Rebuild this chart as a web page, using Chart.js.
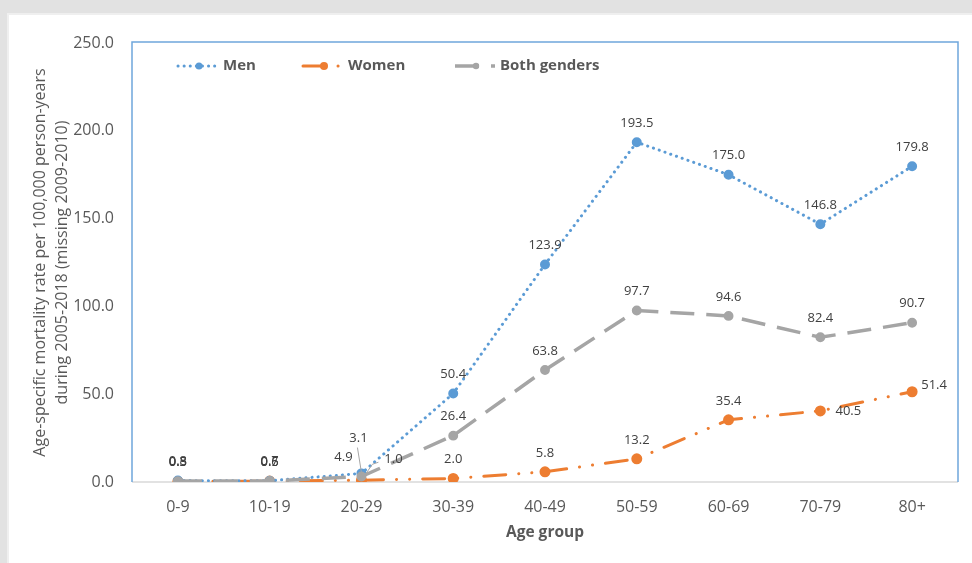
<!DOCTYPE html>
<html>
<head>
<meta charset="utf-8">
<script src="https://cdn.jsdelivr.net/npm/chart.js@4.4.0/dist/chart.umd.min.js"></script>
<style>
  html, body { margin: 0; padding: 0; background: #e2e2e2; width: 972px; height: 563px; overflow: hidden; }
  #panel { position: absolute; left: 7px; top: 13px; width: 965px; height: 550px; background: #fff; border-left: 2px solid #efefef; border-top: 2px solid #efefef; box-sizing: border-box; }
  #chart { position: absolute; left: 0; top: 0; }
</style>
</head>
<body>
<div id="panel"></div>
<canvas id="chart" width="972" height="563"></canvas>
<script>
// data
const ageGroups = ['0-9', '10-19', '20-29', '30-39', '40-49', '50-59', '60-69', '70-79', '80+'];
const men = [0.8, 0.7, 4.9, 50.4, 123.9, 193.5, 175.0, 146.8, 179.8];
const women = [0.3, 0.5, 1.0, 2.0, 5.8, 13.2, 35.4, 40.5, 51.4];
const both = [0.5, 0.6, 3.1, 26.4, 63.8, 97.7, 94.6, 82.4, 90.7];
const yTicks = [0, 50, 100, 150, 200, 250];
const seriesNames = ['Men', 'Women', 'Both genders'];

const FONT = "'Open Sans', 'DejaVu Sans', sans-serif";
const GREY_TXT = '#595959';

// where the value labels sit relative to their point (px)
const labelShift = [
    { def: [0, -19], 2: [-18, -16] },
    { def: [0, -19], 2: [32, -21], 7: [28, 0], 8: [22, -6] },
    { def: [0, -19], 2: [-3, -38] }
];
const legendPos = [178, 303, 455];

const framePlugin = {
    id: 'frame',
    beforeDatasetsDraw(chart) {
        const { ctx, chartArea: a } = chart;
        ctx.save();
        ctx.strokeStyle = '#d9d9d9';
        ctx.lineWidth = 1.5;
        ctx.beginPath();
        ctx.moveTo(a.left, a.bottom);
        ctx.lineTo(a.right, a.bottom);
        ctx.stroke();
        ctx.strokeStyle = '#6fa6dc';
        ctx.lineWidth = 1.5;
        ctx.beginPath();
        ctx.moveTo(a.left, a.bottom);
        ctx.lineTo(a.left, a.top - 1);
        ctx.lineTo(a.right, a.top - 1);
        ctx.lineTo(a.right, a.bottom);
        ctx.stroke();
        ctx.restore();
    }
};

const labelPlugin = {
    id: 'valueLabels',
    afterDatasetsDraw(chart) {
        const ctx = chart.ctx;
        ctx.save();
        ctx.font = '13px ' + FONT;
        ctx.fillStyle = '#404040';
        ctx.textAlign = 'center';
        ctx.textBaseline = 'middle';
        chart.data.datasets.forEach((ds, di) => {
            const meta = chart.getDatasetMeta(di);
            meta.data.forEach((pt, i) => {
                const s = labelShift[di][i] || labelShift[di].def;
                const lx = pt.x + s[0], ly = pt.y + s[1];
                if (i === 2 && di !== 0) {
                    ctx.strokeStyle = '#a6a6a6';
                    ctx.lineWidth = 1;
                    ctx.beginPath();
                    if (di === 2) {
                        ctx.moveTo(pt.x, pt.y - 4);
                        ctx.lineTo(lx - 1, ly + 9);
                    } else {
                        ctx.moveTo(pt.x + 4, pt.y - 6);
                        ctx.lineTo(pt.x + 11, pt.y - 16);
                        ctx.lineTo(pt.x + 17, pt.y - 18);
                    }
                    ctx.stroke();
                }
                ctx.fillText(ds.data[i].toFixed(1), lx, ly);
            });
        });
        ctx.restore();
    }
};

const legendPlugin = {
    id: 'topLegend',
    afterDraw(chart) {
        const ctx = chart.ctx;
        const y = 66;
        ctx.save();
        chart.data.datasets.forEach((ds, di) => {
            const x0 = legendPos[di];
            ctx.strokeStyle = ds.borderColor;
            ctx.lineWidth = ds.borderWidth;
            ctx.lineCap = ds.borderCapStyle || 'butt';
            ctx.setLineDash(ds.borderDash || []);
            ctx.beginPath();
            ctx.moveTo(x0, y);
            ctx.lineTo(x0 + 40, y);
            ctx.stroke();
            ctx.setLineDash([]);
            ctx.fillStyle = ds.pointBackgroundColor;
            ctx.beginPath();
            ctx.arc(x0 + 21, y, ds.pointRadius, 0, Math.PI * 2);
            ctx.fill();
            ctx.fillStyle = GREY_TXT;
            ctx.font = 'bold 15px ' + FONT;
            ctx.textAlign = 'left';
            ctx.textBaseline = 'middle';
            ctx.fillText(ds.label, x0 + 45, y);
        });
        ctx.restore();
    }
};

new Chart(document.getElementById('chart').getContext('2d'), {
    type: 'line',
    data: {
        labels: ageGroups,
        datasets: [{
            label: seriesNames[0],
            data: men,
            borderColor: '#5b9bd5',
            pointBackgroundColor: '#5b9bd5',
            pointBorderColor: '#5b9bd5',
            borderWidth: 3,
            borderDash: [0.1, 6],
            borderCapStyle: 'round',
            pointRadius: 3.5,
            order: 1
        }, {
            label: seriesNames[1],
            data: women,
            borderColor: '#ed7d31',
            pointBackgroundColor: '#ed7d31',
            pointBorderColor: '#ed7d31',
            borderWidth: 3,
            borderDash: [22, 13, 0.1, 13, 0.1, 13],
            borderCapStyle: 'round',
            pointRadius: 4,
            order: 2
        }, {
            label: seriesNames[2],
            data: both,
            borderColor: '#a5a5a5',
            pointBackgroundColor: '#a5a5a5',
            pointBorderColor: '#a5a5a5',
            borderWidth: 3.5,
            borderDash: [24, 12],
            borderCapStyle: 'butt',
            pointRadius: 3.2,
            order: 0
        }]
    },
    options: {
        responsive: false,
        animation: false,
        layout: { padding: { left: 0, top: 43, right: 14, bottom: 0 } },
        plugins: { legend: { display: false }, tooltip: { enabled: false } },
        elements: { line: { tension: 0 }, point: { borderWidth: 0 } },
        scales: {
            x: {
                offset: true,
                grid: { display: false, drawTicks: false },
                border: { display: false },
                ticks: { color: GREY_TXT, font: { family: FONT, size: 16 }, padding: 16 },
                title: {
                    display: true, text: 'Age group', color: GREY_TXT,
                    font: { family: FONT, size: 15.5, weight: 'bold' },
                    padding: { top: 0, bottom: 21 }
                },
                afterFit(s) { s.height = 81; }
            },
            y: {
                min: 0,
                max: 250,
                afterBuildTicks(s) { s.ticks = yTicks.map(v => ({ value: v })); },
                grid: { display: false, drawTicks: false },
                border: { display: false },
                ticks: {
                    color: GREY_TXT, font: { family: FONT, size: 16 }, padding: 18,
                    callback: v => v.toFixed(1)
                },
                title: {
                    display: true,
                    text: ['Age-specific mortality rate per 100,000 person-years', 'during 2005-2018 (missing 2009-2010)'],
                    color: GREY_TXT,
                    font: { family: FONT, size: 16, lineHeight: 1.4 },
                    padding: { top: 29, bottom: 0 }
                },
                afterFit(s) { s.width = 132; }
            }
        }
    },
    plugins: [framePlugin, labelPlugin, legendPlugin]
});
</script>
</body>
</html>
